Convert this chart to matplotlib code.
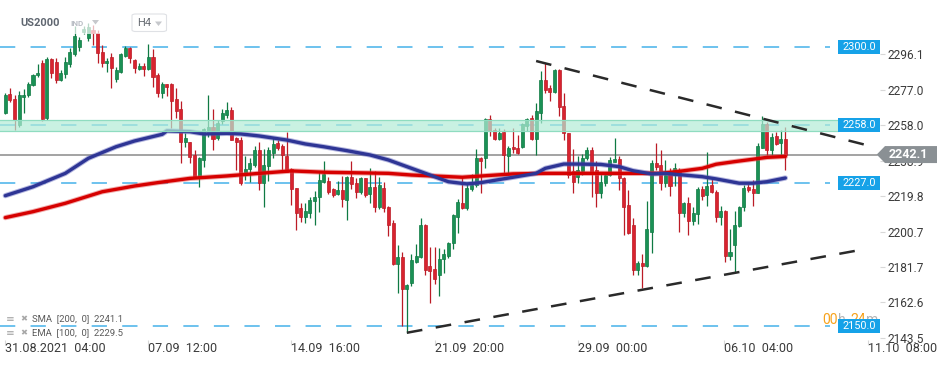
import numpy as np
import matplotlib.pyplot as plt
import matplotlib.transforms as mtransforms
from matplotlib.patches import Rectangle, Polygon, FancyBboxPatch

plt.rcParams['font.family'] = ['Roboto', 'DejaVu Sans']
plt.rcParams['lines.scale_dashes'] = False

# --- H4 candles ---
opens = [2264.5, 2274.7, 2272.0, 2258.0, 2272.8, 2274.0, 2279.5, 2284.7, 2291.3, 2261.8,
         2293.5, 2291.9, 2282.2, 2285.3, 2290.8, 2296.0, 2300.1, 2308.2, 2304.6, 2309.0,
         2307.5, 2297.4, 2291.2, 2294.7, 2282.6, 2286.7, 2295.0, 2299.3, 2293.0, 2288.3,
         2289.7, 2288.0, 2294.4, 2284.9, 2275.4, 2279.9, 2279.9, 2272.0, 2266.6, 2249.0,
         2248.9, 2241.9, 2230.2, 2239.2, 2254.4, 2256.8, 2250.8, 2260.3, 2263.4, 2266.0,
         2251.2, 2250.0, 2232.4, 2234.2, 2236.5, 2244.6, 2226.7, 2235.9, 2242.8, 2248.2,
         2246.7, 2241.3, 2234.2, 2224.0, 2213.2, 2208.4, 2210.8, 2217.3, 2219.1, 2227.5,
         2228.0, 2223.4, 2220.7, 2223.0, 2217.7, 2229.9, 2226.7, 2222.1, 2229.4, 2220.7,
         2224.5, 2213.8, 2224.0, 2213.8, 2205.5, 2183.3, 2186.9, 2169.7, 2172.9, 2184.5,
         2186.9, 2204.2, 2182.2, 2180.4, 2177.4, 2185.8, 2187.6, 2194.4, 2208.7, 2215.9,
         2213.2, 2223.4, 2225.7, 2240.1, 2240.1, 2261.0, 2255.3, 2250.5, 2254.4, 2241.3,
         2246.3, 2245.5, 2246.3, 2257.5, 2261.6, 2250.5, 2264.3, 2282.2, 2278.0, 2275.9,
         2287.6, 2268.2, 2253.5, 2233.3, 2229.9, 2233.4, 2240.1, 2244.6, 2233.8, 2221.6,
         2227.0, 2231.1, 2238.3, 2239.7, 2229.3, 2215.0, 2204.2, 2180.0, 2183.6, 2182.2,
         2200.6, 2237.4, 2236.5, 2226.7, 2233.3, 2231.1, 2233.8, 2210.8, 2215.9, 2206.5,
         2210.2, 2223.4, 2220.4, 2225.7, 2222.1, 2208.7, 2211.9, 2187.7, 2193.5, 2203.7,
         2213.8, 2224.5, 2223.4, 2221.6, 2245.8, 2258.5, 2244.6, 2252.0, 2248.2, 2250.3]
highs = [2275.0, 2278.0, 2274.0, 2276.4, 2277.3, 2281.0, 2285.5, 2291.0, 2293.0, 2294.4,
         2294.0, 2294.0, 2287.5, 2294.5, 2299.6, 2311.0, 2305.5, 2311.0, 2313.0, 2311.5,
         2309.0, 2301.0, 2294.0, 2296.7, 2289.0, 2296.7, 2300.5, 2300.0, 2293.5, 2291.3,
         2291.3, 2301.5, 2298.9, 2285.8, 2281.0, 2279.9, 2280.6, 2278.0, 2270.9, 2253.7,
         2249.0, 2244.5, 2241.0, 2256.4, 2274.0, 2266.6, 2260.7, 2266.6, 2270.5, 2267.7,
         2251.7, 2251.7, 2241.3, 2240.0, 2246.7, 2249.0, 2245.0, 2246.3, 2251.0, 2250.0,
         2247.8, 2254.4, 2234.7, 2224.3, 2215.9, 2215.9, 2219.5, 2222.7, 2233.4, 2238.6,
         2230.0, 2224.0, 2227.9, 2230.6, 2230.6, 2238.6, 2229.4, 2230.0, 2229.6, 2234.7,
         2233.4, 2229.9, 2227.5, 2214.5, 2206.9, 2193.5, 2189.9, 2172.5, 2188.5, 2194.0,
         2208.2, 2204.6, 2192.6, 2192.6, 2191.7, 2191.2, 2195.3, 2210.0, 2218.1, 2230.7,
         2226.7, 2231.5, 2245.0, 2241.0, 2261.6, 2263.4, 2256.4, 2256.4, 2255.7, 2246.7,
         2256.2, 2252.6, 2259.0, 2261.6, 2263.6, 2269.7, 2287.0, 2291.2, 2279.5, 2288.0,
         2288.0, 2275.0, 2253.9, 2244.9, 2241.3, 2242.4, 2246.0, 2246.0, 2238.6, 2232.9,
         2232.4, 2241.0, 2250.8, 2241.3, 2229.9, 2223.0, 2207.8, 2185.0, 2188.7, 2217.3,
         2239.2, 2248.2, 2244.6, 2239.2, 2234.7, 2237.7, 2234.7, 2216.8, 2219.1, 2214.0,
         2224.5, 2225.2, 2243.6, 2229.3, 2223.0, 2214.5, 2212.3, 2201.9, 2211.8, 2214.5,
         2225.7, 2226.3, 2228.4, 2248.2, 2262.8, 2259.8, 2253.9, 2254.4, 2255.3, 2257.1]
lows = [2264.0, 2270.5, 2255.3, 2257.0, 2264.5, 2273.0, 2279.0, 2284.0, 2260.3, 2260.8,
        2283.0, 2280.6, 2281.5, 2283.0, 2289.0, 2295.0, 2298.0, 2307.0, 2303.0, 2301.0,
        2291.3, 2289.4, 2286.7, 2278.0, 2281.0, 2285.8, 2294.5, 2291.5, 2286.0, 2287.3,
        2284.5, 2287.6, 2278.6, 2273.0, 2272.5, 2273.5, 2256.4, 2261.8, 2237.6, 2246.2,
        2237.7, 2229.8, 2224.8, 2235.6, 2251.7, 2244.6, 2250.0, 2258.3, 2262.0, 2249.9,
        2233.8, 2225.8, 2228.4, 2227.5, 2235.6, 2223.0, 2213.8, 2228.0, 2240.0, 2244.6,
        2233.8, 2232.5, 2215.0, 2201.5, 2206.0, 2205.5, 2208.0, 2204.2, 2211.4, 2227.0,
        2220.7, 2219.5, 2220.4, 2213.8, 2206.9, 2223.4, 2218.8, 2220.7, 2219.1, 2216.2,
        2211.4, 2212.7, 2211.0, 2198.3, 2182.7, 2167.5, 2150.0, 2146.0, 2171.3, 2184.0,
        2186.3, 2177.4, 2162.1, 2172.5, 2166.0, 2178.3, 2186.7, 2191.2, 2200.1, 2212.8,
        2212.5, 2222.7, 2224.8, 2221.3, 2235.0, 2252.1, 2250.0, 2250.0, 2231.1, 2231.1,
        2243.1, 2242.4, 2245.5, 2254.9, 2250.1, 2241.9, 2259.2, 2275.0, 2271.0, 2275.3,
        2262.8, 2250.0, 2229.4, 2221.3, 2227.0, 2231.1, 2239.2, 2219.2, 2214.0, 2218.6,
        2225.2, 2230.6, 2238.1, 2223.0, 2198.9, 2199.4, 2177.4, 2177.4, 2170.2, 2181.5,
        2189.3, 2233.8, 2223.0, 2224.8, 2220.0, 2225.2, 2200.6, 2208.4, 2198.9, 2204.2,
        2204.8, 2217.7, 2214.5, 2221.3, 2206.0, 2204.2, 2184.5, 2185.4, 2179.0, 2203.0,
        2212.0, 2222.0, 2214.5, 2221.3, 2245.5, 2241.9, 2241.9, 2247.2, 2241.9, 2233.8]
closes = [2274.1, 2271.5, 2260.7, 2274.0, 2274.2, 2280.0, 2284.9, 2286.1, 2261.2, 2293.5,
          2286.0, 2282.2, 2286.1, 2292.0, 2297.2, 2305.8, 2303.7, 2309.4, 2310.9, 2307.5,
          2296.7, 2291.2, 2292.6, 2288.5, 2287.6, 2296.0, 2299.6, 2294.0, 2288.5, 2289.7,
          2288.2, 2294.4, 2284.0, 2275.0, 2279.9, 2278.6, 2271.0, 2265.7, 2249.0, 2250.8,
          2241.0, 2230.2, 2240.1, 2255.8, 2256.8, 2250.3, 2258.9, 2264.3, 2266.0, 2250.0,
          2249.0, 2226.7, 2234.2, 2237.4, 2244.6, 2226.7, 2236.5, 2244.6, 2247.8, 2245.8,
          2241.9, 2232.9, 2223.4, 2210.8, 2208.4, 2211.8, 2217.7, 2219.1, 2228.4, 2231.7,
          2222.1, 2220.4, 2223.0, 2218.0, 2229.9, 2226.3, 2222.1, 2229.4, 2220.4, 2224.5,
          2213.8, 2225.7, 2213.2, 2204.2, 2183.3, 2186.9, 2169.7, 2172.0, 2185.4, 2187.6,
          2204.2, 2180.0, 2179.7, 2175.0, 2185.8, 2188.9, 2194.4, 2209.6, 2216.8, 2213.2,
          2224.0, 2225.7, 2240.1, 2238.8, 2261.0, 2254.9, 2250.5, 2253.9, 2241.9, 2245.5,
          2244.9, 2242.8, 2258.4, 2261.0, 2250.5, 2265.5, 2282.2, 2276.8, 2275.9, 2287.6,
          2267.5, 2253.5, 2231.0, 2227.5, 2233.8, 2240.4, 2244.6, 2232.9, 2221.6, 2227.2,
          2231.1, 2239.2, 2239.9, 2229.3, 2214.0, 2199.8, 2180.0, 2183.6, 2182.2, 2202.0,
          2237.4, 2235.6, 2226.7, 2231.1, 2225.2, 2234.7, 2210.8, 2216.2, 2206.5, 2210.5,
          2223.4, 2219.8, 2225.2, 2222.1, 2208.7, 2211.9, 2187.7, 2189.6, 2204.2, 2213.8,
          2224.0, 2223.0, 2221.3, 2246.7, 2258.5, 2244.6, 2251.7, 2247.8, 2250.3, 2242.1]

# moving averages, sampled at candle indices
sma_idx = [0, 6, 13, 21, 28, 33, 40, 48, 55, 62, 69, 83, 88, 99, 110, 117, 129, 142,
           147, 151, 154, 158, 162, 165, 169]
sma_val = [2208.2, 2211.4, 2215.9, 2222.1, 2225.2, 2227.0, 2229.3, 2230.6, 2232.0, 2233.3,
           2232.6, 2232.0, 2231.1, 2229.9, 2231.7, 2232.0, 2232.0, 2232.0, 2233.4, 2234.7,
           2236.9, 2238.3, 2239.6, 2240.6, 2241.1]
ema_idx = [0, 6, 13, 18, 24, 28, 34, 35, 40, 43, 48, 51, 55, 61, 65, 69, 74, 79, 83, 87,
           91, 96, 100, 103, 110, 115, 117, 121, 124, 129, 133, 136, 140, 143, 147, 151,
           154, 159, 162, 165, 169]
ema_val = [2220.0, 2224.8, 2232.0, 2240.1, 2246.3, 2249.4, 2253.0, 2254.8, 2254.4, 2253.2,
           2253.5, 2253.2, 2252.1, 2249.9, 2247.8, 2246.3, 2244.2, 2241.9, 2239.2, 2235.6,
           2232.0, 2227.5, 2226.3, 2227.0, 2229.9, 2232.0, 2234.7, 2237.0, 2237.0, 2236.8,
           2235.6, 2233.4, 2231.7, 2232.0, 2231.1, 2230.2, 2229.0, 2226.7, 2226.7, 2227.5,
           2229.5]

levels = [2300.0, 2227.0, 2150.0]
zone_mid = 2258.0
zone_low, zone_high = 2254.5, 2260.5
last_price = 2242.1
upper_trend_x, upper_trend_y = [115.0, 187.5], [2292.4, 2246.6]
lower_trend_x, lower_trend_y = [87.0, 186.3], [2146.3, 2191.3]

price_ticks = [2143.5, 2162.6, 2181.7, 2200.7, 2219.8, 2238.9, 2258.0, 2277.0, 2296.1]
date_pos = [0, 31, 62, 93, 124, 155.7, 186.8]
date_labels = ["31.08.2021  04:00", "07.09  12:00", "14.09  16:00", "21.09  20:00",
               "29.09  00:00", "06.10  04:00", "11.10  08:00"]

W, H = 950, 365
fig = plt.figure(figsize=(W / 100, H / 100), dpi=100, facecolor='white')
ax = fig.add_axes([0, 25 / H, 880 / W, 340 / H])
ax.set_xlim(-1.15, 189.5)
ax.set_ylim(2142.4, 2325.2)
for s in ax.spines.values():
    s.set_visible(False)

o, h, l, c = map(np.array, (opens, highs, lows, closes))
idx = np.arange(len(o))
up = c >= o
green, green_e = '#1a9155', '#0f7a43'
red, red_e = '#d8232f', '#bb1b26'

#wicks + bodies
ax.vlines(idx[up], l[up], h[up], color=green_e, lw=0.9, zorder=2)
ax.vlines(idx[~up], l[~up], h[~up], color=red_e, lw=0.9, zorder=2)
body = np.maximum(np.abs(c - o), 0.4)
ax.bar(idx[up], body[up], bottom=np.minimum(o, c)[up], width=0.66,
       color=green, edgecolor=green_e, lw=0.5, zorder=3)
ax.bar(idx[~up], body[~up], bottom=np.minimum(o, c)[~up], width=0.66,
       color=red, edgecolor=red_e, lw=0.5, zorder=3)

#Moving averages
ax.plot(sma_idx, sma_val, color='#e04848', lw=3.8, alpha=0.45, zorder=4, solid_capstyle='round')
ax.plot(sma_idx, sma_val, color='#d60000', lw=2.4, zorder=4.1, solid_capstyle='round')
ax.plot(ema_idx, ema_val, color='#5a5fb8', lw=3.8, alpha=0.45, zorder=4, solid_capstyle='round')
ax.plot(ema_idx, ema_val, color='#2e3595', lw=2.4, zorder=4.1, solid_capstyle='round')

#Horizontal levels
blue = '#45b2ea'
for lv in levels + [zone_mid]:
    ax.axhline(lv, xmin=0, xmax=830 / 880, color=blue, lw=1.1,
               linestyle=(0, (11, 11)), zorder=1.5)

#Zone overlay (drawn on top of candles)
ax.axhspan(zone_low, zone_high, xmin=0, xmax=838 / 880, facecolor='#b2ecd7',
           alpha=0.7, edgecolor='none', zorder=5)
for zb in (zone_low, zone_high):
    ax.axhline(zb, xmin=0, xmax=838 / 880, color='#8fdcc0', lw=0.9, zorder=5.1)

#Last price line
ax.axhline(last_price, xmin=0, xmax=877 / 880, color='#8a8a8a', lw=1.1, zorder=1.6)

#Trend lines
ax.plot(upper_trend_x, upper_trend_y, color='#2a2a2a', lw=1.8,
        linestyle=(0, (11.3, 9.8)), zorder=6)
ax.plot(lower_trend_x, lower_trend_y, color='#2a2a2a', lw=1.8,
        linestyle=(0, (11.3, 9.8)), zorder=6)

#Axis ticks
ax.yaxis.tick_right()
ax.set_yticks(price_ticks)
ax.set_yticklabels([f"{p:.1f}" for p in price_ticks])
ax.tick_params(axis='y', length=3.6, width=0.8, color='#d8d8d8', labelsize=8.6,
               labelcolor='#3a3a3a', pad=1.5)
ax.set_xticks(date_pos)
ax.set_xticklabels(date_labels)
ax.tick_params(axis='x', length=3.6, width=0.8, color='#d8d8d8', labelsize=9,
               labelcolor='#3a3a3a', pad=-2)
for lab in ax.get_xticklabels():
    lab.set_horizontalalignment('left')
    lab.set_x(lab.get_position()[0])

# level boxes on the right
tr = mtransforms.blended_transform_factory(ax.transAxes, ax.transData)
half = 7 / 1.86
for lv in levels + [zone_mid]:
    ax.add_patch(Rectangle((838 / 880, lv - half), 42 / 880, 2 * half, transform=tr,
                           facecolor='#16a2e8', edgecolor='none', zorder=9, clip_on=False))
    ax.text(859 / 880, lv, f"{lv:.1f}", transform=tr, ha='center', va='center',
            color='white', fontsize=7.8, zorder=10)

#current price arrow label
hh = 8.5 / 1.86
pts = [(876.7 / 880, last_price), (885 / 880, last_price + hh), (937 / 880, last_price + hh),
       (937 / 880, last_price - hh), (885 / 880, last_price - hh)]
ax.add_patch(Polygon(pts, closed=True, transform=tr, facecolor='#8a9094',
                     edgecolor='none', zorder=11, clip_on=False))
ax.text(908 / 880, last_price, f"{last_price:.1f}", transform=tr, ha='center', va='center',
        color='white', fontsize=9, fontweight='bold', zorder=12, clip_on=False)

#countdown (partly hidden by the 2150 box)
def fx(px):
    return px / W
def fy(py):
    return 1 - py / H
for txt, x0, col in [("00", 822, '#f7a21b'), ("h", 838, '#b5b5b5'),
                     ("24", 850, '#f7a21b'), ("m", 866, '#b5b5b5')]:
    ax.text(fx(x0), fy(320), txt, transform=fig.transFigure, ha='left', va='center',
            color=col, fontsize=10, zorder=8, clip_on=False)

#Header
fig.text(fx(20), fy(23), "US2000", fontsize=8, fontweight='bold', color='#5f6670',
         va='center', ha='left')
fig.text(fx(70.5), fy(24), "IND", fontsize=5.8, fontweight='bold', color='#b9bdc4',
         va='center', ha='left')
fig.add_artist(Rectangle((fx(67), fy(34)), fx(36), 24 / H, transform=fig.transFigure,
                         facecolor='white', alpha=0.7, edgecolor='none', zorder=1))
fig.add_artist(Polygon([(fx(92), fy(20)), (fx(99), fy(20)), (fx(95.5), fy(24.5))],
                       transform=fig.transFigure, facecolor='#c6c8cc', edgecolor='none', zorder=2))
fig.add_artist(FancyBboxPatch((fx(132), fy(31.5)), fx(34.5), 17.5 / H,
                              boxstyle='round,pad=0,rounding_size=0.004',
                              transform=fig.transFigure, facecolor='white',
                              edgecolor='#dfe1e5', lw=0.8, zorder=2))
fig.text(fx(137), fy(23), "H4", fontsize=8, color='#666b72', va='center', ha='left', zorder=3)
fig.add_artist(Polygon([(fx(155), fy(21.5)), (fx(162), fy(21.5)), (fx(158.5), fy(26))],
                       transform=fig.transFigure, facecolor='#c6c8cc', edgecolor='none', zorder=3))

#Indicator legend
for row, txt in [(319, "SMA  [200,  0]  2241.1"), (333, "EMA  [100,  0]  2229.5")]:
    fig.text(fx(5.5), fy(row), "\u2261", fontsize=7.5, color='#a3a3a3', va='center',
             ha='left', family='DejaVu Sans')
    fig.text(fx(20.5), fy(row), "\u2716", fontsize=6, color='#a8a8a8', va='center',
             ha='left', family='DejaVu Sans')
    fig.text(fx(31.5), fy(row), txt, fontsize=6.8, color='#5a5a5a', va='center', ha='left')

fig.savefig('out.png', dpi=100, facecolor='white')
